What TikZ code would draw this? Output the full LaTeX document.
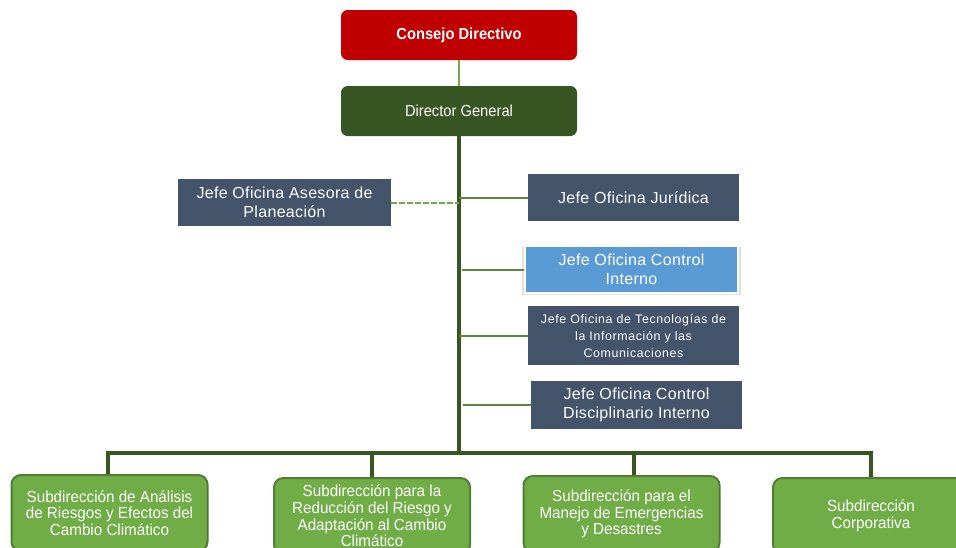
\documentclass[tikz,border=0pt]{standalone}
\usepackage{fontspec}
\setmainfont{Liberation Sans}
\newfontfamily\narrowfont[FakeStretch=0.92]{Liberation Sans}
\newfontfamily\officefont[LetterSpace=2]{Liberation Sans}
\newfontfamily\ticfont[LetterSpace=5]{Liberation Sans}
\newfontfamily\subfont[FakeStretch=0.95]{Liberation Sans}
\usetikzlibrary{shadows,calc}
\definecolor{cdred}{HTML}{C00000}
\definecolor{dgreen}{HTML}{375623}
\definecolor{lgreen}{HTML}{70AD47}
\definecolor{bgreen}{HTML}{507E32}
\definecolor{brgreen}{HTML}{5A8A3A}
\definecolor{slate}{HTML}{44546A}
\definecolor{lblue}{HTML}{5B9BD5}
\begin{document}
\begin{tikzpicture}[x=0.75pt,y=-0.75pt,
  topbox/.style={rounded corners=5pt,minimum width=177pt,minimum height=37.5pt,text=white,inner sep=0pt},
  office/.style={fill=slate,text=white,align=center,inner sep=0pt,font=\officefont\fontsize{12}{14.25}\selectfont},
  subbox/.style={fill=lgreen,draw=bgreen,line width=1.5pt,rounded corners=7pt,text=white,align=center,
     minimum width=147pt,minimum height=57pt,inner sep=0pt,font=\subfont\fontsize{12}{12.5}\selectfont},
  trunkline/.style={dgreen,line width=2.5pt},
  branch/.style={brgreen,line width=1.5pt}]
\useasboundingbox (0,0) rectangle (956,547);
\begin{scope}
\clip (0,0) rectangle (956,547);
\node[topbox,fill=cdred,font=\narrowfont\bfseries\fontsize{12}{14}\selectfont] (cd) at (459,35) {Consejo Directivo};
\node[topbox,fill=dgreen,font=\narrowfont\fontsize{12}{14}\selectfont] (dg) at (459,111) {Director General};
\draw[lgreen,line width=1.2pt] (cd.south) -- (dg.north);

\node[office,minimum width=159.75pt,minimum height=35.25pt] (plan) at (284.5,202.5) {Jefe Oficina Asesora de\\Planeación};
\node[office,minimum width=158.25pt,minimum height=35.25pt] (jur) at (633.5,197.5) {Jefe Oficina Jurídica};
\node[office,fill=lblue,draw=white,line width=1.5pt,
  general shadow={fill=black,opacity=0.12,shadow scale=1.025,shadow yshift=-0.8pt},
  minimum width=159.75pt,minimum height=35.25pt] (ci) at (631.5,269.5) {Jefe Oficina Control\\Interno};
\node[office,minimum width=158.25pt,minimum height=44.25pt,font=\ticfont\fontsize{9.3}{12.75}\selectfont] (tic) at (633.5,335.5) {Jefe Oficina de Tecnologías de\\la Información y las\\Comunicaciones};
\node[office,minimum width=158.25pt,minimum height=36pt] (cdi) at (636.5,405) {Jefe Oficina Control\\Disciplinario Interno};

\node[subbox] (b1) at (109.5,513) {Subdirección de Análisis\\de Riesgos y Efectos del\\Cambio Climático};
\node[subbox] (b2) at (372,516) {Subdirección para la\\Reducción del Riesgo y\\Adaptación al Cambio\\Climático};
\node[subbox] (b3) at (621.5,514) {Subdirección para el\\Manejo de Emergencias\\y Desastres};
\node[subbox] (b4) at (871,516) {Subdirección\\Corporativa};

\coordinate (bus) at (459,453);
\draw[trunkline] (dg.south) -- (bus);
\draw[trunkline] ([xshift=-1.1pt]b1.north) |- (bus) -| (b4.north);
\draw[trunkline] (b2.north) -- (b2.north |- bus);
\draw[trunkline] ([xshift=9.4pt]b3.north) -- ([xshift=9.4pt]b3.north |- bus);

\draw[branch,lgreen,dashed,dash pattern=on 4pt off 2pt] (plan.east) -- (plan.east -| bus);
\draw[branch] (bus |- jur.west) -- (jur.west);
\draw[branch] ([xshift=2pt]bus |- ci.west) -- (ci.west);
\draw[branch] (bus |- tic.west) -- (tic.west);
\draw[branch] ([xshift=3pt]bus |- cdi.west) -- (cdi.west);
\end{scope}
\end{tikzpicture}
\end{document}
